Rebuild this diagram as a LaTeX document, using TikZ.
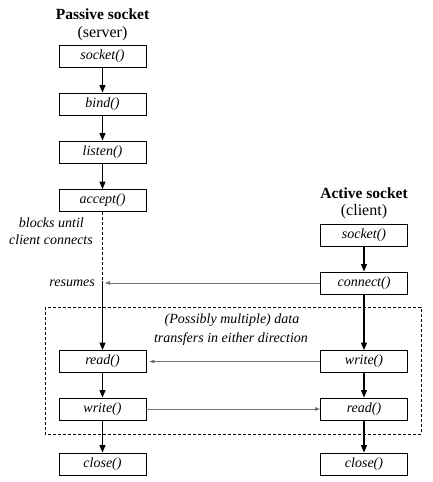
\documentclass[tikz,border=0pt]{standalone}
\usepackage{fontspec}
\setmainfont{Liberation Serif}
\usetikzlibrary{arrows.meta}
\begin{document}
\begin{tikzpicture}[x=1pt,y=-1pt,
  fnbox/.style={draw,line width=0.9pt,minimum width=87pt,minimum height=22pt,inner sep=0pt,font=\fontsize{14}{16}\selectfont\itshape},
  title/.style={font=\fontsize{15.5}{17}\selectfont\bfseries,inner sep=0pt},
  sub/.style={font=\fontsize{16}{18}\selectfont,inner sep=0pt},
  lbl/.style={font=\fontsize{14}{16}\selectfont\itshape,inner sep=0pt},
  flow/.style={line width=1.1pt,-{Triangle[length=7.5pt,width=6pt]}},
  msg/.style={draw=black!55,line width=0.7pt,-{Triangle[length=5pt,width=3.5pt]}}]
\useasboundingbox (0,0) rectangle (432,482);
% titles
\node[title] (pt) at (102.5,14) {Passive socket};
\node[sub] (ps) at (102.5,34) {(server)};
\node[title] (at) at (364,193) {Active socket};
\node[sub] (as) at (364,212) {(client)};
% left column
\node[fnbox] (lsock) at (102.5,56) {socket()};
\node[fnbox] (lbind) at (102.5,104) {bind()};
\node[fnbox] (llist) at (102.5,152) {listen()};
\node[fnbox] (lacc) at (102.5,200.5) {accept()};
\node[fnbox] (lread) at (102.5,361.5) {read()};
\node[fnbox] (lwrite) at (102.5,409) {write()};
\node[fnbox] (lclose) at (102.5,464) {close()};
% right column
\node[fnbox] (rsock) at (364,235) {socket()};
\node[fnbox] (rconn) at (364,283) {connect()};
\node[fnbox] (rwrite) at (364,361.5) {write()};
\node[fnbox] (rread) at (364,409) {read()};
\node[fnbox] (rclose) at (364,464) {close()};
% labels
\node[lbl,anchor=east] (blk1) at (84,223) {blocks until};
\node[lbl,anchor=east] (blk2) at (93,240) {client connects};
\node[lbl,anchor=east] (res) at (95,283) {resumes};
\node[lbl] (pm1) at (232,320) {(Possibly multiple) data};
\node[lbl] (pm2) at (231,339) {transfers in either direction};
% dashed region
\draw[line width=0.9pt,dash pattern=on 3pt off 2pt] (45,307) rectangle (421,434);
% coordinates
\coordinate (wake) at (102.5,281);
\coordinate (wakeR) at (105,283);
% left flow
\draw[flow] (lsock) -- (lbind);
\draw[flow] (lbind) -- (llist);
\draw[flow] (llist) -- (lacc);
\draw[line width=1.1pt,dash pattern=on 3pt off 2pt] (lacc.south) -- (wake);
\draw[flow] (wake) -- (lread.north);
\draw[flow] (lread) -- (lwrite);
\draw[flow] (lwrite) -- (lclose);
% right flow
\draw[flow] (rsock) -- (rconn);
\draw[flow] (rconn) -- (rwrite);
\draw[flow] (rwrite) -- (rread);
\draw[flow] (rread) -- (rclose);
% messages
\draw[msg] (rconn.west) -- (wakeR);
\draw[msg] (rwrite.west) -- ([xshift=3pt]lread.east);
\draw[msg] (lwrite.east) -- (rread.west);
\end{tikzpicture}
\end{document}
